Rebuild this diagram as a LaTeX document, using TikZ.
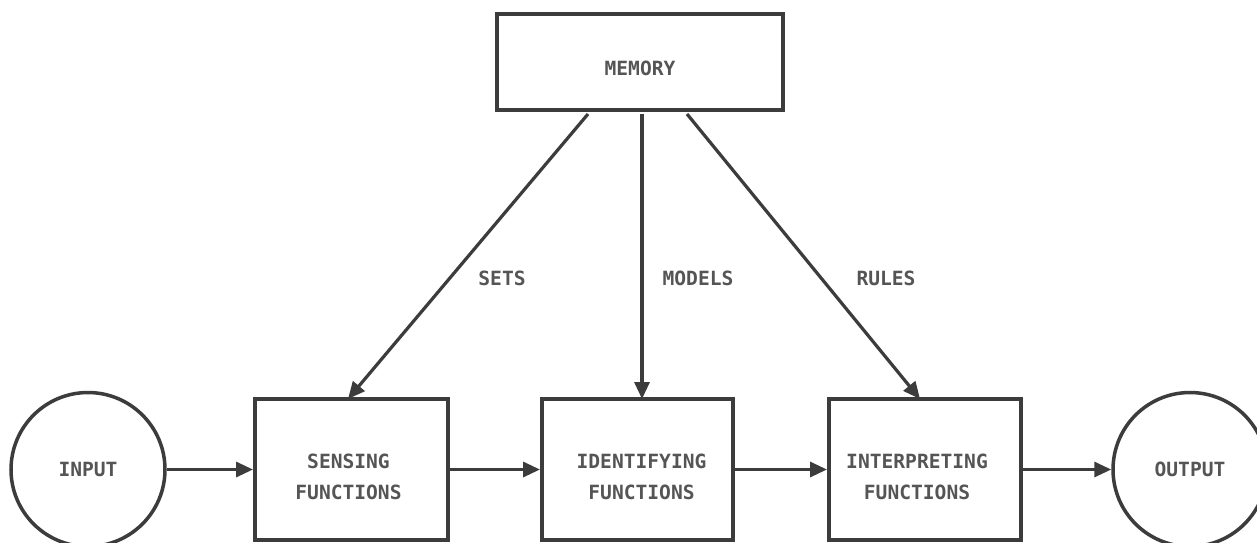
\documentclass[tikz,border=0pt]{standalone}
\usepackage{fontspec}
\newfontfamily\lblfont{DejaVu Sans Mono}
\usetikzlibrary{arrows.meta}
\definecolor{ink}{HTML}{3C3C3C}
\definecolor{txt}{HTML}{555555}
\tikzset{
  x=1pt, y=-1pt,
  lbl/.style={font=\lblfont\bfseries\fontsize{19.6}{31}\selectfont, text=txt, align=center, inner sep=0pt},
  fbox/.style={draw=ink, line width=4pt, fill=white, minimum width=193pt, minimum height=141pt, inner sep=0pt},
  membox/.style={draw=ink, line width=4pt, fill=white, minimum width=286pt, minimum height=96pt, inner sep=0pt},
  term/.style={draw=ink, line width=3.5pt, circle, fill=white, minimum size=154pt, inner sep=0pt},
  arr/.style={draw=ink, line width=3.2pt, -{Triangle[length=17pt, width=15pt]}},
  tag/.style={font=\lblfont\bfseries\fontsize{19.6}{31}\selectfont, text=txt, inner sep=0pt}
}
\begin{document}
\begin{tikzpicture}
\useasboundingbox[fill=white] (0,0) rectangle (1257,542);
\begin{scope}
\clip (0,0) rectangle (1257,542);
\node[membox, label={[lbl,yshift=-6pt]center:MEMORY}] (mem) at (640,62) {};
\node[fbox, label={[lbl,yshift=-7pt,xshift=-3pt]center:SENSING\\FUNCTIONS}] (sense) at (351.5,469.5) {};
\node[fbox, minimum width=191pt, label={[lbl,yshift=-7pt,xshift=4pt]center:IDENTIFYING\\FUNCTIONS}] (ident) at (637.5,469.5) {};
\node[fbox, minimum width=192pt, label={[lbl,yshift=-7pt,xshift=-8pt]center:INTERPRETING\\FUNCTIONS}] (interp) at (925,469.5) {};
\node[term, label={[lbl]center:INPUT}] (in) at (88,469.5) {};
\node[term, label={[lbl]center:OUTPUT}] (out) at (1190,469.5) {};

\draw[arr] (in.east) -- (sense.west);
\draw[arr] (sense.east) -- (ident.west);
\draw[arr] (ident.east) -- (interp.west);
\draw[arr] (interp.east) -- (out.west);

\draw[arr] ([xshift=-52pt,yshift=-2pt]mem.south) -- ([xshift=-3.5pt,yshift=-2pt]sense.north);
\draw[arr] ([xshift=2pt,yshift=-2pt]mem.south) -- ([xshift=4.5pt,yshift=-2pt]ident.north);
\draw[arr] ([xshift=47pt,yshift=-2pt]mem.south) -- ([xshift=-5pt,yshift=-2pt]interp.north);

\node[tag] (tsets) at (502,278) {SETS};
\node[tag] (tmodels) at (698,278) {MODELS};
\node[tag] (trules) at (886,278) {RULES};
\end{scope}
\end{tikzpicture}
\end{document}
